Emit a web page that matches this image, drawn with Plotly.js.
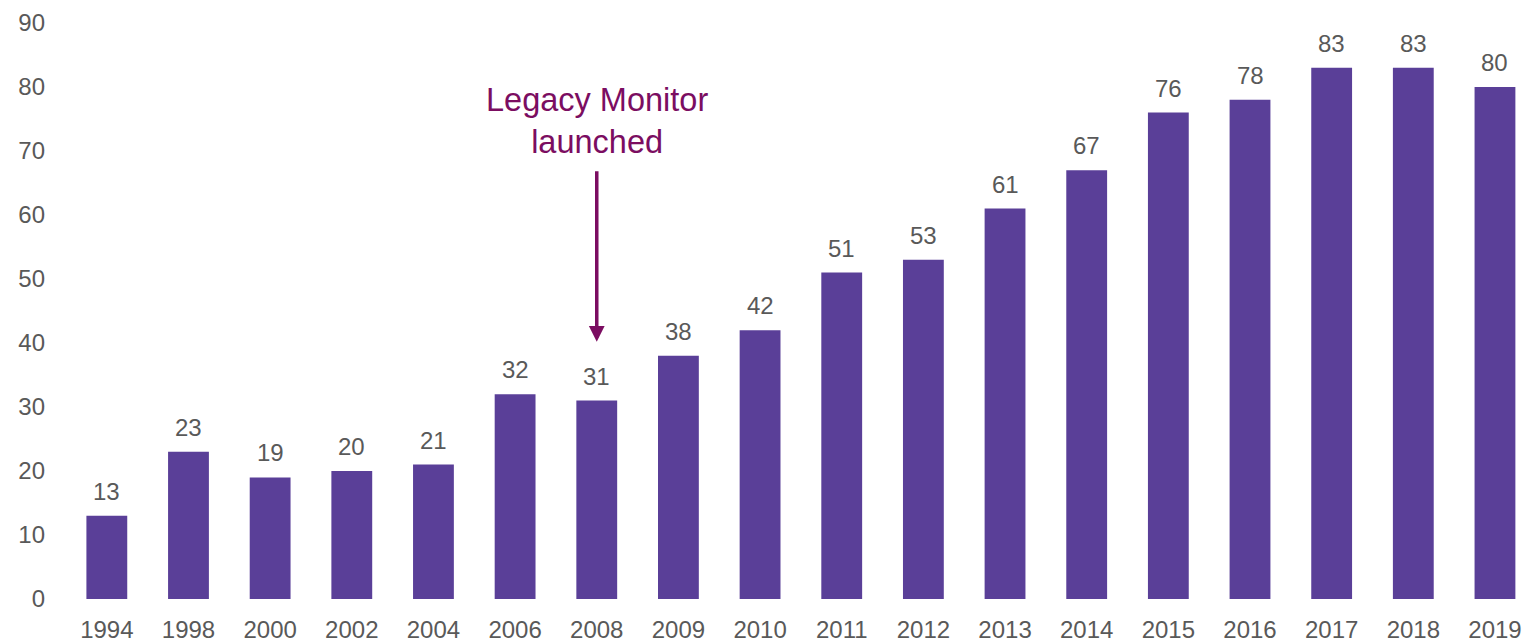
<!DOCTYPE html>
<html>
<head>
<meta charset="utf-8">
<script src="https://cdn.plot.ly/plotly-3.0.1.min.js"></script>
<style>html,body{margin:0;padding:0;background:#fff;}#chart{width:1526px;height:643px;}</style>
</head>
<body>
<div id="chart"></div>
<script>
const years = ['1994','1998','2000','2002','2004','2006','2008','2009','2010','2011','2012','2013','2014','2015','2016','2017','2018','2019'];
const values = [13,23,19,20,21,32,31,38,42,51,53,61,67,76,78,83,83,80];
const yTicks = [0,10,20,30,40,50,60,70,80,90];
const calloutYear = '2008';
const calloutText = 'Legacy Monitor<br>launched';
const calloutPointValue = 40.2;

const barColor = '#5A3F98';
const textGray = '#595959';
const calloutColor = '#7B0D61';

const labelAnnotations = years.map((y, i) => ({
  x: i, y: values[i], xref: 'x', yref: 'y',
  text: String(values[i]), showarrow: false,
  yanchor: 'bottom', yshift: 9,
  font: {family: 'Liberation Sans', size: 24, color: textGray}
}));

const calloutIndex = years.indexOf(calloutYear);

const calloutArrow = {
  x: calloutIndex, y: calloutPointValue, xref: 'x', yref: 'y',
  text: '', showarrow: true,
  ax: 0, ay: -172,
  arrowhead: 2, arrowsize: 0.9, arrowwidth: 3.5, arrowcolor: calloutColor
};

const calloutLabel = {
  x: calloutIndex, y: calloutPointValue, xref: 'x', yref: 'y',
  text: calloutText, showarrow: false,
  yanchor: 'bottom', yshift: 180,
  font: {family: 'Liberation Sans', size: 32.5, color: calloutColor}
};

const trace = {
  type: 'bar', x: years, y: values,
  marker: {color: barColor},
  hoverinfo: 'x+y'
};

const layout = {
  width: 1526, height: 643,
  margin: {l: 66, r: 0, t: 23, b: 44},
  paper_bgcolor: '#fff', plot_bgcolor: '#fff',
  bargap: 0.5,
  showlegend: false,
  font: {family: 'Liberation Sans', color: textGray, size: 24},
  xaxis: {
    type: 'category', range: [-0.5, 17.38],
    showgrid: false, zeroline: false, showline: false, ticks: '',
    tickfont: {size: 24, color: textGray}, ticklabelstandoff: 14
  },
  yaxis: {
    range: [0, 90], tickvals: yTicks,
    showgrid: false, zeroline: false, showline: false, ticks: '',
    tickfont: {size: 24, color: textGray}, ticklabelstandoff: 20
  },
  annotations: labelAnnotations.concat([calloutArrow, calloutLabel])
};

Plotly.newPlot('chart', [trace], layout, {displayModeBar: false});
</script>
</body>
</html>
